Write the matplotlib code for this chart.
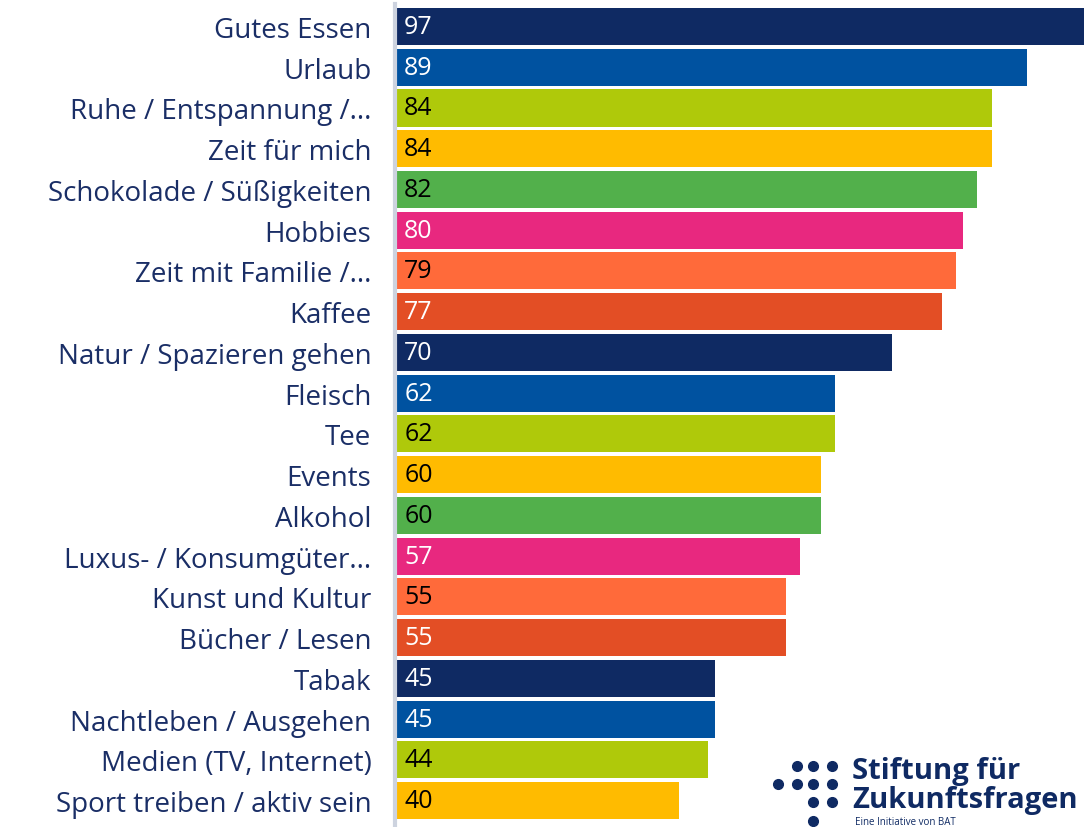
import matplotlib
matplotlib.use("Agg")
import matplotlib.pyplot as plt
from matplotlib.lines import Line2D

categories = ["Gutes Essen", "Urlaub", "Ruhe / Entspannung /...", "Zeit für mich",
              "Schokolade / Süßigkeiten", "Hobbies", "Zeit mit Familie /...", "Kaffee",
              "Natur / Spazieren gehen", "Fleisch", "Tee", "Events", "Alkohol",
              "Luxus- / Konsumgüter...", "Kunst und Kultur", "Bücher / Lesen", "Tabak",
              "Nachtleben / Ausgehen", "Medien (TV, Internet)", "Sport treiben / aktiv sein"]
values = [97, 89, 84, 84, 82, 80, 79, 77, 70, 62, 62, 60, 60, 57, 55, 55, 45, 45, 44, 40]

palette = ["#0f2a63", "#0052a0", "#afc90a", "#ffbb00", "#52b04b", "#e8287f", "#ff6a3a", "#e34e25"]
text_on = ["white", "white", "black", "black", "black", "white", "black", "white"]

NAVY = "#1a2e66"
plt.rcParams['font.family'] = ['Open Sans', 'DejaVu Sans']

W, H = 1084, 828
fig = plt.figure(figsize=(W / 100, H / 100), dpi=100)
ax = fig.add_axes([395 / W, 0, 1 - 395 / W, (828 - 5) / H])

colors = [palette[i % len(palette)] for i in range(len(values))]
ypos = list(range(len(values)))
ax.barh(ypos, values, height=0.91, color=colors, left=0)
for i, v in enumerate(values):
    ax.text(1.3, i, str(v), va="center", ha="left", fontsize=18,
            color=text_on[i % len(palette)])

ax.set_xlim(0, 97)
ax.set_ylim(19.65, -0.552)
ax.set_yticks(ypos)
ax.set_yticklabels(categories, fontsize=20, color=NAVY)
ax.tick_params(axis="y", length=0, pad=17)
ax.set_xticks([])
for s in ["top", "right", "bottom"]:
    ax.spines[s].set_visible(False)
ax.spines["left"].set_color("#cdd3df")
ax.spines["left"].set_linewidth(3)

# logo
dots = [(797, 767), (813, 767), (832, 767),
        (778, 785), (797, 785), (813, 785), (832, 785),
        (813, 803), (832, 803), (813, 822)]
fig.add_artist(Line2D([d[0] / W for d in dots], [1 - d[1] / H for d in dots],
                      transform=fig.transFigure, linestyle="none", marker="o",
                      markersize=7, color="#0f2a63"))
fig.text(852 / W, 1 - 772 / H, "Stiftung für", fontsize=21, fontweight="bold",
         color="#0f2a63", va="center", ha="left")
fig.text(852 / W, 1 - 801 / H, "Zukunftsfragen", fontsize=21, fontweight="bold",
         color="#0f2a63", va="center", ha="left")
fig.text(855 / W, 1 - 823 / H, "Eine Initiative von BAT", fontsize=7,
         color="#0f2a63", va="center", ha="left")

fig.savefig("out.png", dpi=100)
